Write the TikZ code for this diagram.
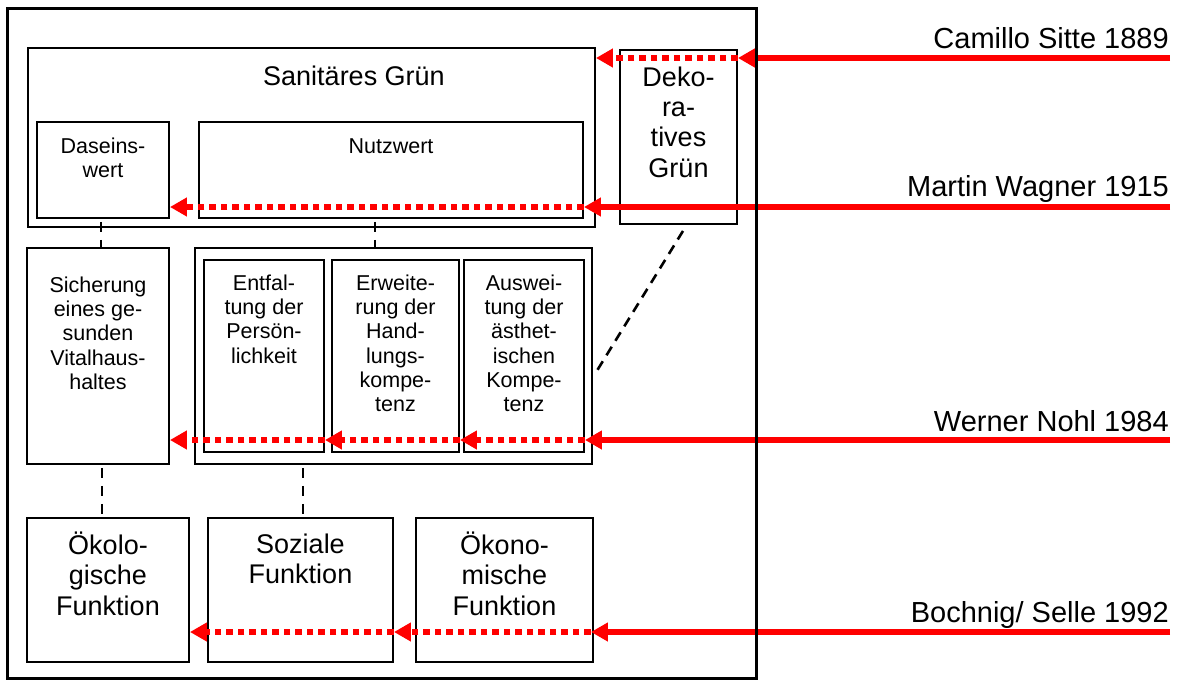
\documentclass[tikz,border=0pt]{standalone}
\usepackage{fontspec}
\setmainfont{Liberation Sans}
\usetikzlibrary{arrows.meta,calc}
\definecolor{arrowred}{RGB}{255,0,0}
\tikzset{
  box/.style={draw=black, line width=1.9pt, inner sep=0pt, rectangle},
  frame/.style={draw=black, line width=3.4pt, inner sep=0pt, rectangle},
  smalltxt/.style={font=\fontsize{21.5}{24.3}\selectfont, align=center, inner sep=0pt, anchor=north},
  bigtxt/.style={font=\fontsize{27}{30.3}\selectfont, align=center, inner sep=0pt, anchor=north},
  labtxt/.style={font=\fontsize{29}{34}\selectfont, inner sep=0pt, anchor=base east},
  leadarrow/.style={draw=arrowred, line width=6pt, -{Triangle[length=17pt,width=18pt]}},
  passarrow/.style={draw=arrowred, line width=6pt, dash pattern=on 6.5pt off 5pt,
    -{Triangle[length=17pt,width=18pt]}},
  link/.style={draw=black, line width=2.6pt, dash pattern=on 10pt off 8pt, dash phase=-3pt},
  slantlink/.style={draw=black, line width=2.6pt, dash pattern=on 10pt off 7pt},
}
\begin{document}
\begin{tikzpicture}[x=1pt,y=-1pt]
\useasboundingbox (0,0) rectangle (1179,680);

% --- boxes ---
\node[box, minimum width=567pt, minimum height=179pt] (sanitaer) at (311.5,137.5) {};
\node[box, minimum width=132pt, minimum height=96pt]  (dasein)   at (103,170) {};
\node[box, minimum width=384pt, minimum height=96pt]  (nutz)     at (391,170) {};
\node[box, minimum width=117pt, minimum height=174pt] (deko)     at (678.5,137) {};

\node[box, minimum width=142pt, minimum height=216pt] (sicher)   at (98,356) {};
\node[box, minimum width=397pt, minimum height=216pt] (group)    at (393.5,356) {};
\node[box, minimum width=120pt, minimum height=192pt] (entf)     at (264,356) {};
\node[box, minimum width=127pt, minimum height=192pt] (erw)      at (395.5,356) {};
\node[box, minimum width=120pt, minimum height=192pt] (ausw)     at (524,356) {};

\node[box, minimum width=162pt, minimum height=144pt] (oekol)    at (108,590) {};
\node[box, minimum width=185pt, minimum height=144pt] (sozial)   at (300.5,590) {};
\node[box, minimum width=177pt, minimum height=144pt] (oekon)    at (504.5,590) {};

% --- texts ---
\node[font=\fontsize{27}{30.3}\selectfont, inner sep=0pt, anchor=base] (tSanitaer) at (354,85) {Sanitäres Grün};
\node[smalltxt] (tDasein) at (103,136) {\strut Daseins-\\wert};
\node[smalltxt] (tNutz)   at (391,136) {\strut Nutzwert};
\node[bigtxt]   (tDeko)   at (678.5,64.8) {\strut Deko-\\ra-\\tives\\Grün};

\node[smalltxt] (tSicher) at (98,275) {\strut Sicherung\\eines ge-\\sunden\\Vitalhaus-\\haltes};
\node[smalltxt] (tEntf)   at (264,273) {\strut Entfal-\\tung der\\Persön-\\lichkeit};
\node[smalltxt] (tErw)    at (395.5,273) {\strut Erweite-\\rung der\\Hand-\\lungs-\\kompe-\\tenz};
\node[smalltxt] (tAusw)   at (524,273) {\strut Auswei-\\tung der\\ästhet-\\ischen\\Kompe-\\tenz};

\node[bigtxt] (tOekol)  at (108,531.8) {\strut Ökolo-\\gische\\Funktion};
\node[bigtxt] (tSozial) at (300.5,531.8) {\strut Soziale\\Funktion};
\node[bigtxt] (tOekon)  at (504.5,531.8) {\strut Ökono-\\mische\\Funktion};

% --- author labels on the right ---
\node[labtxt] (lSitte)  at (1169,48)  {Camillo Sitte 1889};
\node[labtxt] (lWagner) at (1169,196) {Martin Wagner 1915};
\node[labtxt] (lNohl)   at (1169,431) {Werner Nohl 1984};
\node[labtxt] (lSelle)  at (1169,622) {Bochnig/ Selle 1992};

% free ends of the red lines under the labels
\coordinate (eSitte)  at (1170,58);
\coordinate (eWagner) at (1170,207);
\coordinate (eNohl)   at (1170,440);
\coordinate (eSelle)  at (1170,632);

% --- dashed links between the levels ---
\draw[link] ([xshift=-2pt]dasein.south) -- ([xshift=-2pt]dasein.south |- sicher.north);
\draw[link] ([xshift=-16pt]nutz.south) -- ([xshift=-16pt]nutz.south |- group.north);
\draw[link] ([xshift=4pt]sicher.south) -- ([xshift=4pt]sicher.south |- oekol.north);
\draw[link] ([xshift=2.5pt]sozial.north |- group.south) -- ([xshift=2.5pt]sozial.north);
\draw[slantlink] ([shift={(4.5,6)}]deko.south) -- ([shift={(2,18)}]group.east);

% --- red arrows ---
\draw[leadarrow] (eSitte) -- (deko.east |- eSitte);
\draw[passarrow] (deko.east |- eSitte) -- (sanitaer.east |- eSitte);

\draw[leadarrow] (eWagner) -- (nutz.east |- eWagner);
\draw[passarrow] (nutz.east |- eWagner) -- (dasein.east |- eWagner);

\draw[leadarrow] (eNohl) -- (ausw.east |- eNohl);
\draw[passarrow] (ausw.east |- eNohl) -- (erw.east |- eNohl);
\draw[passarrow] (erw.east |- eNohl) -- (entf.east |- eNohl);
\draw[passarrow] (entf.east |- eNohl) -- (sicher.east |- eNohl);

\draw[leadarrow] (eSelle) -- ([xshift=-3pt]oekon.east |- eSelle);
\draw[passarrow] ([xshift=-3pt]oekon.east |- eSelle) -- (sozial.east |- eSelle);
\draw[passarrow] (sozial.east |- eSelle) -- (oekol.east |- eSelle);

% --- outer frame, drawn over the red lines ---
\node[frame, minimum width=749pt, minimum height=670pt] (outer) at (382,343.25) {};
\end{tikzpicture}
\end{document}
